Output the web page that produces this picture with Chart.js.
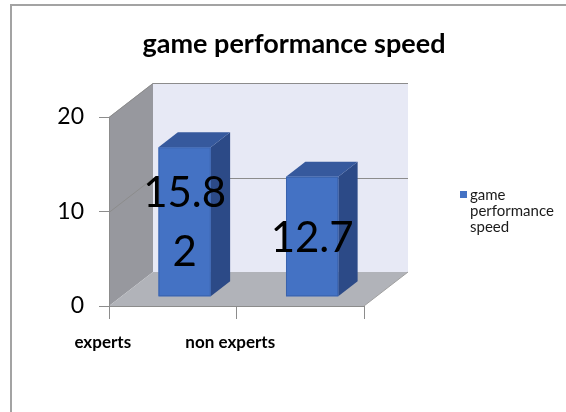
<!DOCTYPE html>
<html>
<head>
<meta charset="utf-8">
<script src="https://cdn.jsdelivr.net/npm/chart.js@4"></script>
<style>
  html, body { margin: 0; padding: 0; background: #fff; overflow: hidden; }
  canvas { display: block; }
</style>
</head>
<body>
<canvas id="speedChart" width="566" height="412"></canvas>
<script>
// data
const chartTitle = 'game performance speed';
const seriesName = 'game performance speed';
const categories = ['experts', 'non experts'];
const speedValues = [15.82, 12.7];
const yTicks = [0, 10, 20];

// 3d look
const depthX = 44, depthY = -34;
const barFront = 0.27, barBack = 0.71;

function wrapWords(ctx, text, maxW) {
  const words = text.split(' ');
  const lines = [];
  let cur = '';
  words.forEach(w => {
    const t = cur ? cur + ' ' + w : w;
    if (cur && ctx.measureText(t).width > maxW) { lines.push(cur); cur = w; }
    else cur = t;
  });
  if (cur) lines.push(cur);
  return lines;
}

const walls3d = {
  id: 'walls3d',
  beforeDraw(chart) {
    const {ctx, chartArea: a, scales: {y}} = chart;
    const y0 = y.getPixelForValue(yTicks[0]);
    const yTop = y.getPixelForValue(yTicks[yTicks.length - 1]);
    ctx.save();
    // outer frame
    ctx.strokeStyle = '#a3a3a3';
    ctx.lineWidth = 2;
    ctx.strokeRect(11, 5, 700, 600);
    // back wall
    ctx.fillStyle = '#e7e9f5';
    ctx.fillRect(a.left + depthX, yTop + depthY, a.right - a.left, y0 - yTop);
    // left wall
    ctx.fillStyle = '#97989e';
    ctx.beginPath();
    ctx.moveTo(a.left, yTop);
    ctx.lineTo(a.left + depthX, yTop + depthY);
    ctx.lineTo(a.left + depthX, y0 + depthY);
    ctx.lineTo(a.left, y0);
    ctx.closePath();
    ctx.fill();
    // floor
    ctx.fillStyle = '#b1b3b9';
    ctx.beginPath();
    ctx.moveTo(a.left, y0);
    ctx.lineTo(a.left + depthX, y0 + depthY);
    ctx.lineTo(a.right + depthX, y0 + depthY);
    ctx.lineTo(a.right, y0);
    ctx.closePath();
    ctx.fill();
    ctx.strokeStyle = '#a0a0a0';
    ctx.lineWidth = 1;
    ctx.beginPath();
    ctx.moveTo(a.right, y0);
    ctx.lineTo(a.right + depthX, y0 + depthY);
    ctx.stroke();
    // grid lines on the walls
    ctx.strokeStyle = '#8c8c8c';
    yTicks.forEach(v => {
      if (v === yTicks[0]) return;
      const py = Math.round(y.getPixelForValue(v)) + 0.5;
      ctx.beginPath();
      ctx.moveTo(a.left, py);
      ctx.lineTo(a.left + depthX, py + depthY);
      ctx.lineTo(a.right + depthX, py + depthY);
      ctx.stroke();
    });
    ctx.restore();
  },
  afterDatasetsDraw(chart) {
    const {ctx} = chart;
    const meta = chart.getDatasetMeta(0);
    const ox = depthX * barFront, oy = depthY * barFront;
    const dx = depthX * (barBack - barFront), dy = depthY * (barBack - barFront);
    ctx.save();
    meta.data.forEach((el, i) => {
      const p = el.getProps(['x', 'y', 'base', 'width'], true);
      const x1 = p.x - p.width / 2 + ox, x2 = p.x + p.width / 2 + ox;
      const top = p.y + oy, bot = p.base + oy;
      // side
      ctx.fillStyle = '#2c4a87';
      ctx.beginPath();
      ctx.moveTo(x2, top); ctx.lineTo(x2 + dx, top + dy);
      ctx.lineTo(x2 + dx, bot + dy); ctx.lineTo(x2, bot);
      ctx.closePath(); ctx.fill();
      // top
      ctx.fillStyle = '#36599d';
      ctx.beginPath();
      ctx.moveTo(x1, top); ctx.lineTo(x1 + dx, top + dy);
      ctx.lineTo(x2 + dx, top + dy); ctx.lineTo(x2, top);
      ctx.closePath(); ctx.fill();
      // front
      ctx.fillStyle = '#4472c4';
      ctx.fillRect(x1, top, x2 - x1, bot - top);
      ctx.strokeStyle = '#3a63ad';
      ctx.strokeRect(x1 + 0.5, top + 0.5, x2 - x1 - 1, bot - top - 1);

      // value label, wrapped like the original
      const txt = String(speedValues[i]);
      const lines = [];
      for (let k = 0; k < txt.length; k += 4) lines.push(txt.slice(k, k + 4));
      ctx.fillStyle = '#000';
      ctx.font = '42px Lato';
      ctx.textAlign = 'center';
      ctx.textBaseline = 'alphabetic';
      const lh = 59;
      const cy = (top + bot) / 2 - (lines.length - 1) * lh / 2;
      lines.forEach((ln, k) => ctx.fillText(ln, (x1 + x2) / 2, cy + k * lh + 15));
    });
    ctx.restore();
  },
  afterDraw(chart) {
    const {ctx} = chart;
    ctx.save();
    // title
    ctx.fillStyle = '#000';
    ctx.font = 'bold 27px Lato';
    ctx.textAlign = 'center';
    ctx.textBaseline = 'alphabetic';
    ctx.fillText(chartTitle, 294, 53);
    // legend
    ctx.fillStyle = '#4472c4';
    ctx.fillRect(460, 191, 7, 7);
    ctx.fillStyle = '#1a1a1a';
    ctx.font = '15px Lato';
    ctx.textAlign = 'left';
    wrapWords(ctx, seriesName, 86).forEach((ln, k) => ctx.fillText(ln, 470, 200 + k * 16));
    ctx.restore();
  }
};

new Chart(document.getElementById('speedChart'), {
  type: 'bar',
  data: {
    labels: categories,
    datasets: [{
      label: seriesName,
      data: speedValues,
      backgroundColor: 'rgba(0,0,0,0)',
      borderWidth: 0,
      categoryPercentage: 1,
      barPercentage: 0.41
    }]
  },
  options: {
    responsive: false,
    animation: false,
    layout: {padding: {top: 117, right: 202, bottom: 0, left: 0}},
    plugins: {legend: {display: false}, title: {display: false}, tooltip: {enabled: false}},
    scales: {
      x: {
        afterFit: s => { s.height = 106; },
        grid: {drawOnChartArea: false, tickLength: 13, color: '#8c8c8c'},
        border: {color: '#8c8c8c'},
        ticks: {color: '#000', font: {family: 'Lato', size: 17, weight: 'bold'}, padding: 13, labelOffset: -70}
      },
      y: {
        min: yTicks[0],
        max: yTicks[yTicks.length - 1],
        afterFit: s => { s.width = 109; },
        afterBuildTicks: s => { s.ticks = yTicks.map(v => ({value: v})); },
        grid: {drawOnChartArea: false, tickLength: 10, color: '#8c8c8c'},
        border: {color: '#8c8c8c'},
        ticks: {color: '#000', font: {family: 'Lato', size: 23}, padding: 15}
      }
    }
  },
  plugins: [walls3d]
});
</script>
</body>
</html>
